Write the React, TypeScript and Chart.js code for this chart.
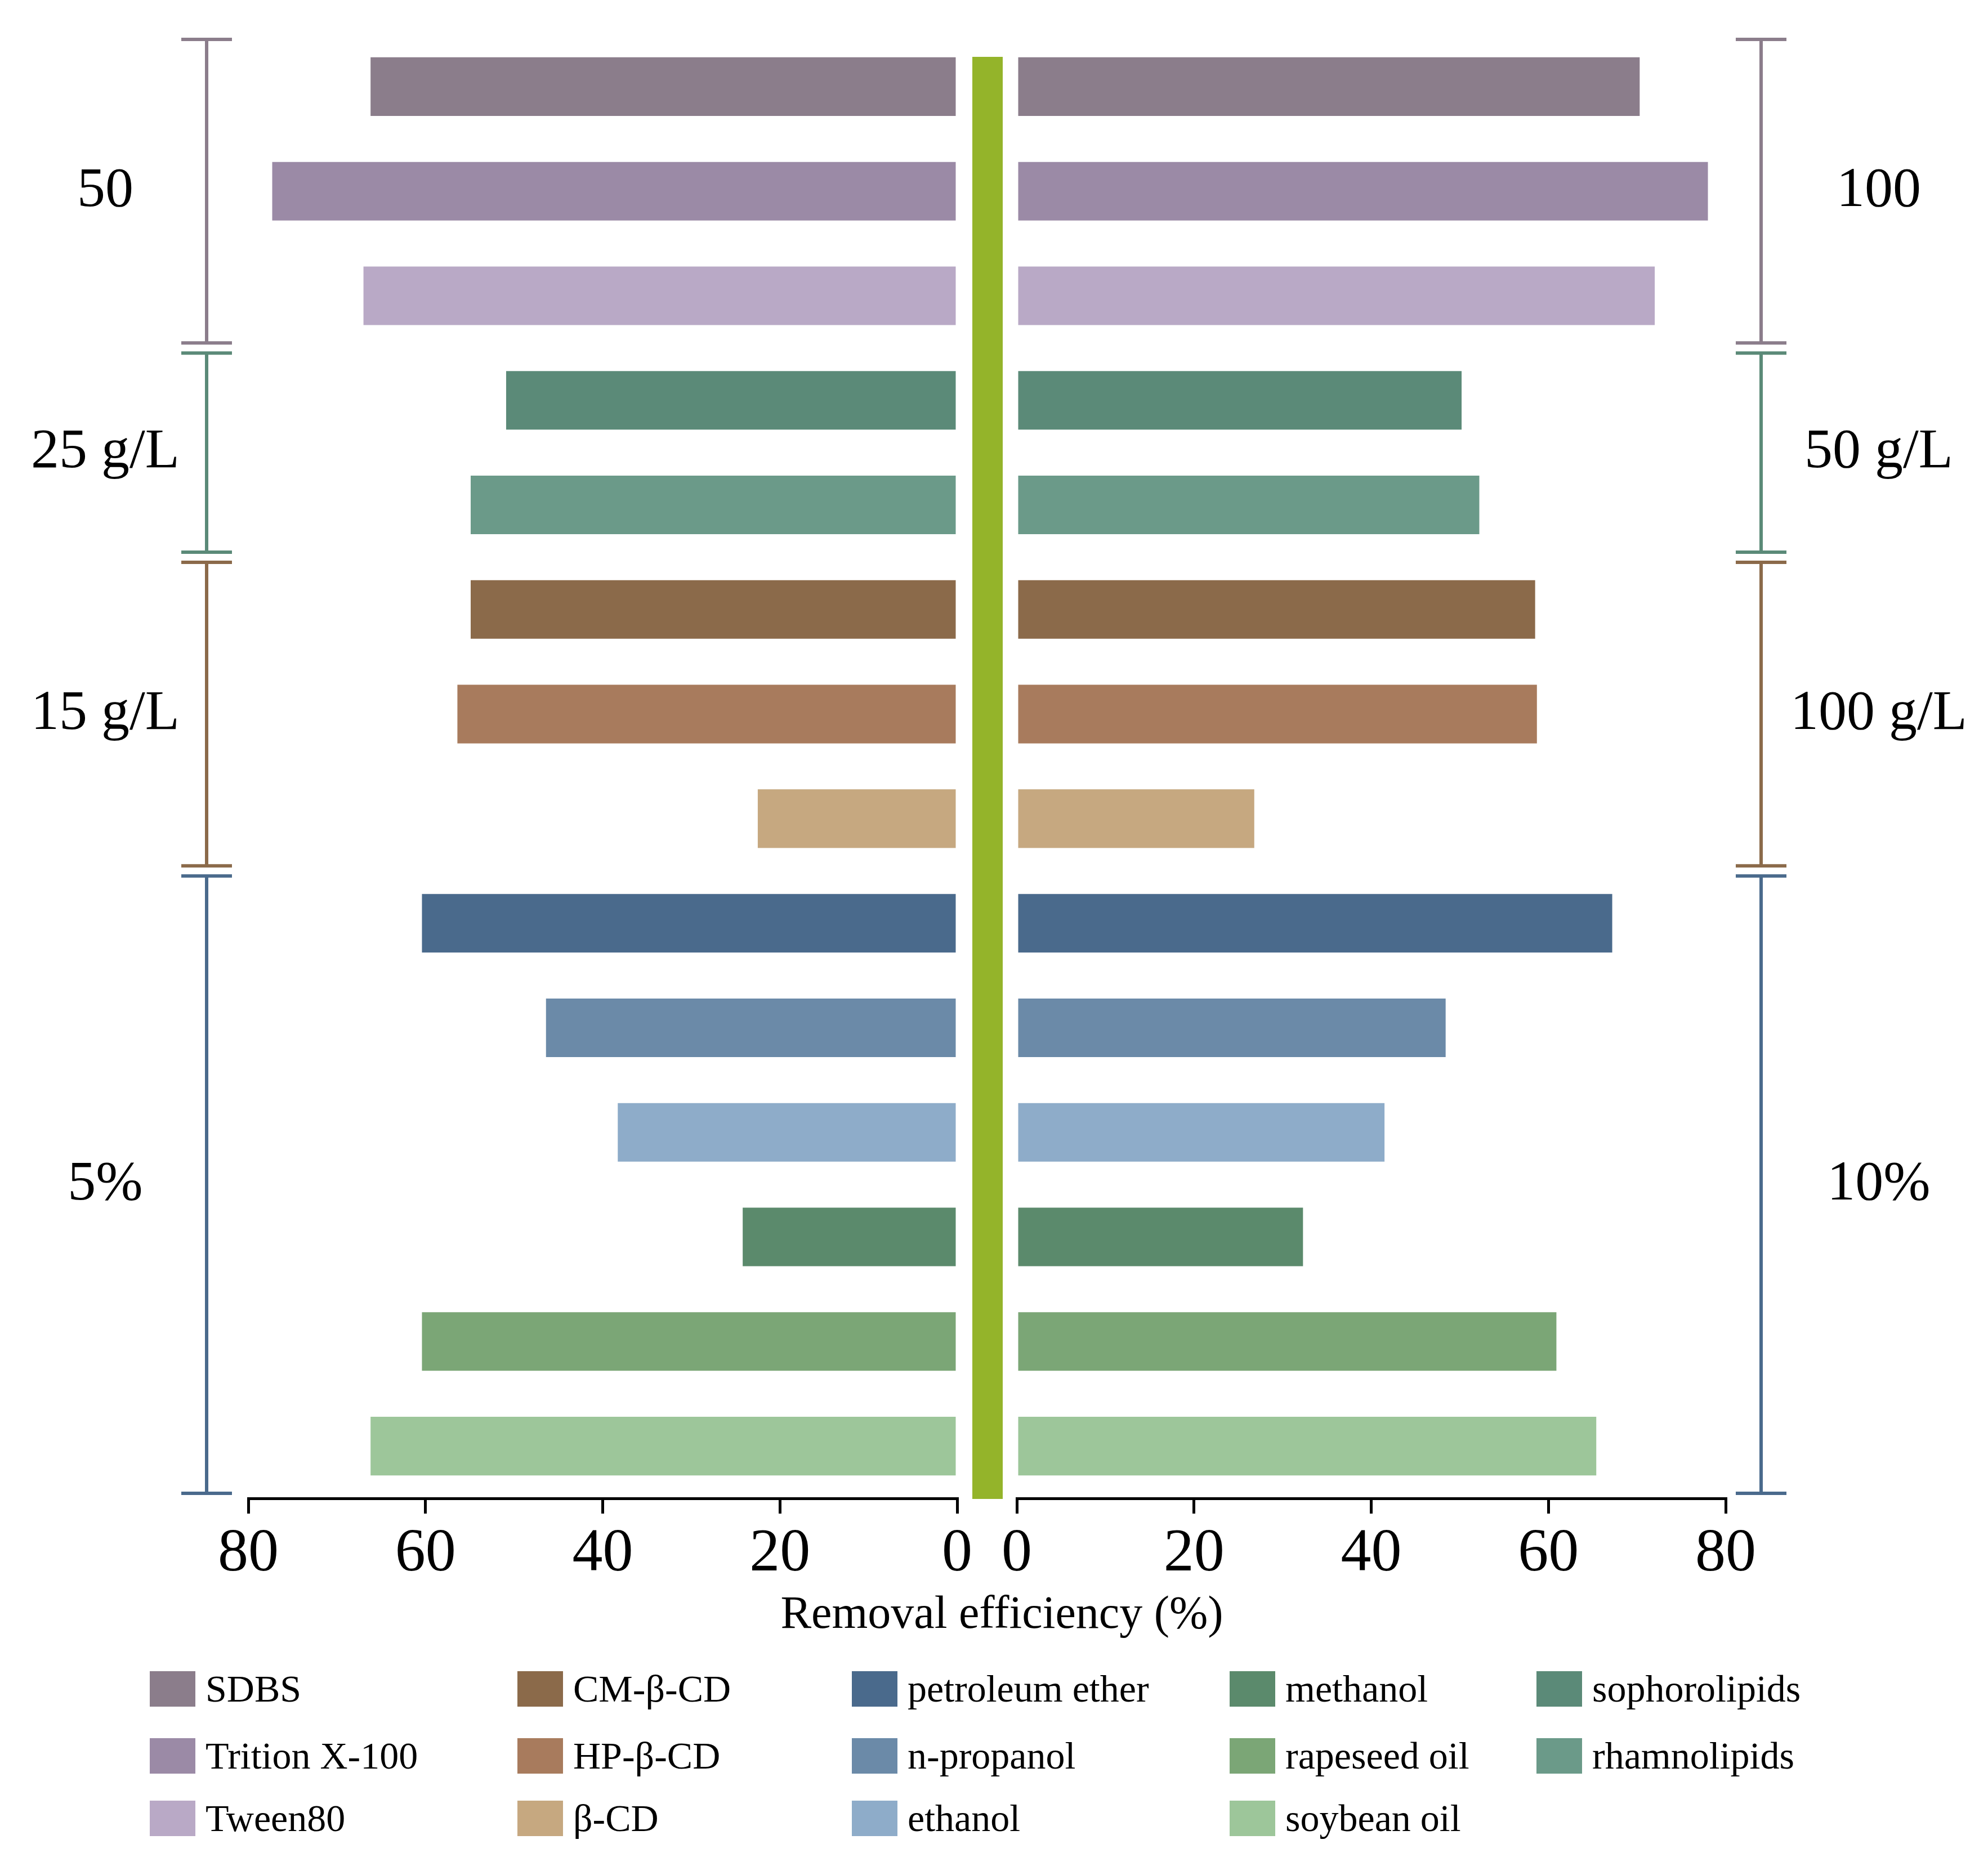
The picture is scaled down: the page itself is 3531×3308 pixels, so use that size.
import React, { useEffect, useRef } from "react";
import { Chart, registerables } from "chart.js";
Chart.register(...registerables);

const categories = ["SDBS","Trition X-100","Tween80","sophorolipids","rhamnolipids","CM-β-CD","HP-β-CD","β-CD","petroleum ether","n-propanol","ethanol","methanol","rapeseed oil","soybean oil"];
const leftValues = [66.2,77.3,67,50.9,54.9,54.9,56.4,22.5,60.4,46.4,38.3,24.2,60.4,66.2];
const rightValues = [70.3,78,72,50.2,52.2,58.5,58.7,26.8,67.2,48.4,41.5,32.3,60.9,65.4];
const colors = ["#8b7d8b","#9b8aa6","#b9a9c6","#5b8a78","#6b9a89","#8b6a4a","#a87b5d","#c6a880","#4a6a8c","#6b8aa8","#8eacc9","#5b8a6c","#7ba676","#9dc69a"];
const groups = [
  { start: 0, end: 2, left: "50", right: "100", color: "#8b7d8b" },
  { start: 3, end: 4, left: "25 g/L", right: "50 g/L", color: "#5b8a78" },
  { start: 5, end: 7, left: "15 g/L", right: "100 g/L", color: "#8b6a4a" },
  { start: 8, end: 13, left: "5%", right: "10%", color: "#4a6a8c" },
];
const legendColumns = [
  ["SDBS","Trition X-100","Tween80"],
  ["CM-β-CD","HP-β-CD","β-CD"],
  ["petroleum ether","n-propanol","ethanol"],
  ["methanol","rapeseed oil","soybean oil"],
  ["sophorolipids","rhamnolipids"],
];
const xTicks = [0,20,40,60,80];

const FONT = "'Liberation Serif', 'Times New Roman', serif";

function makeBracketPlugin(side: "left" | "right", bx: number, lx: number) {
  return {
    id: "brackets" + side,
    afterDraw(chart: any) {
      const ctx = chart.ctx;
      const y = chart.scales.y;
      const step = y.getPixelForValue(1) - y.getPixelForValue(0);
      ctx.save();
      groups.forEach((g) => {
        const top = y.getPixelForValue(g.start) - step / 2 + 9;
        const bot = y.getPixelForValue(g.end) + step / 2 - 9;
        ctx.strokeStyle = g.color;
        ctx.lineWidth = 6;
        ctx.beginPath();
        ctx.moveTo(bx, top); ctx.lineTo(bx, bot);
        ctx.moveTo(bx - 45, top); ctx.lineTo(bx + 45, top);
        ctx.moveTo(bx - 45, bot); ctx.lineTo(bx + 45, bot);
        ctx.stroke();
        ctx.fillStyle = "#000";
        ctx.font = "100px " + FONT;
        ctx.textAlign = "center";
        ctx.textBaseline = "middle";
        ctx.fillText(side === "left" ? g.left : g.right, lx, (top + bot) / 2);
      });
      ctx.restore();
    },
  };
}

function makeChart(canvas: HTMLCanvasElement, side: "left" | "right") {
  const left = side === "left";
  return new Chart(canvas, {
    type: "bar",
    data: {
      labels: categories,
      datasets: [{ data: left ? leftValues : rightValues, backgroundColor: colors, barPercentage: 0.56, categoryPercentage: 1 }],
    },
    options: {
      indexAxis: "y",
      animation: false,
      responsive: false,
      layout: { padding: left ? { left: 441, right: 80, top: 61, bottom: 446 } : { left: 66, right: 466, top: 61, bottom: 446 } },
      plugins: { legend: { display: false }, tooltip: { enabled: false } },
      scales: {
        y: { display: false },
        x: {
          min: 0, max: 80, reverse: left,
          afterBuildTicks: (s: any) => { s.ticks = xTicks.map((v) => ({ value: v })); },
          afterFit: (s: any) => { s.height = 200; },
          grid: { drawOnChartArea: false, drawTicks: true, tickLength: 27, color: "#000", lineWidth: 5 },
          border: { color: "#000", width: 5 },
          ticks: { color: "#000", font: { size: 108, family: FONT }, padding: 8, maxRotation: 0, autoSkip: false },
        },
      },
    } as any,
    plugins: [left ? makeBracketPlugin("left", 367, 187) : makeBracketPlugin("right", 3128 - 1740, 3337 - 1740)],
  } as any);
}

export default function App() {
  const lRef = useRef<HTMLCanvasElement>(null);
  const rRef = useRef<HTMLCanvasElement>(null);
  useEffect(() => {
    document.body.style.margin = "0";
    const a = makeChart(lRef.current!, "left");
    const b = makeChart(rRef.current!, "right");
    return () => { a.destroy(); b.destroy(); };
  }, []);
  const colX = [266, 919, 1513, 2184, 2729];
  return (
    <div style={{ position: "relative", width: 3531, height: 3308, background: "#fff", fontFamily: FONT }}>
      <div style={{ position: "absolute", left: 1727, top: 101, width: 54, height: 2562, background: "#94b42a" }} />
      <canvas ref={lRef} width={1780} height={3308} style={{ position: "absolute", left: 0, top: 0, width: 1780, height: 3308 }} />
      <canvas ref={rRef} width={1791} height={3308} style={{ position: "absolute", left: 1740, top: 0, width: 1791, height: 3308 }} />
      <div style={{ position: "absolute", left: 0, width: 3531, top: 2815, textAlign: "center", fontSize: 82, lineHeight: "100px", paddingLeft: 28, boxSizing: "border-box" }}>Removal efficiency (%)</div>
      {legendColumns.map((col, ci) =>
        col.map((name, ri) => (
          <div key={name} style={{ position: "absolute", left: colX[ci], top: [3000, 3119, 3230][ri] - 34, height: 68, display: "flex", alignItems: "center", fontSize: 68, whiteSpace: "nowrap" }}>
            <div style={{ width: 81, height: 63, background: colors[categories.indexOf(name)], marginRight: 18 }} />
            {name}
          </div>
        ))
      )}
    </div>
  );
}
